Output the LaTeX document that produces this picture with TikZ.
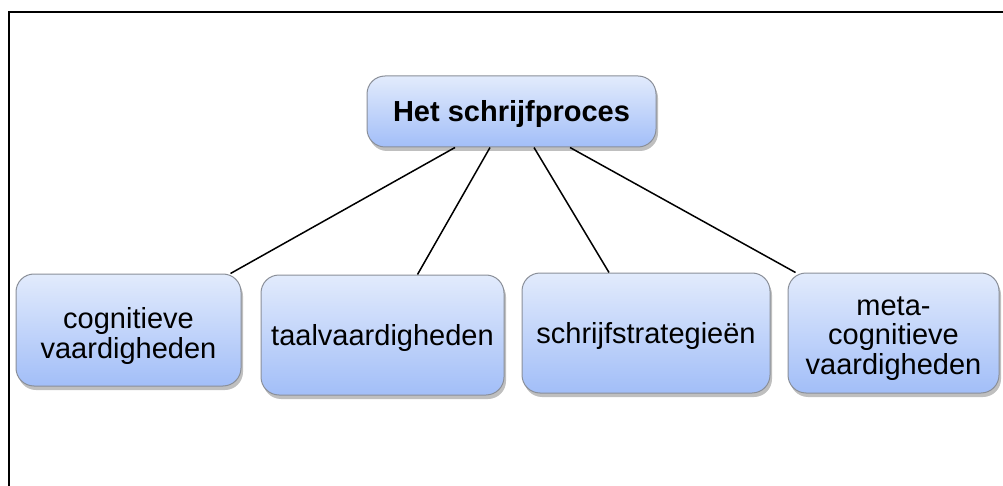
\documentclass[tikz,border=0pt]{standalone}
\usepackage{fontspec}
\setmainfont{Liberation Sans}
\usetikzlibrary{shadows}
\definecolor{boxtop}{HTML}{E2EBFC}
\definecolor{boxbot}{HTML}{A2BEF8}
\definecolor{boxline}{HTML}{8A8F99}
\newcommand{\boxtext}[2][-6pt]{\raisebox{#1}[\height][\depth]{\begin{tabular}{@{}c@{}}#2\end{tabular}}}
\begin{document}
\begin{tikzpicture}[x=1pt,y=-1pt,
  box/.style={rectangle, rounded corners=18pt, draw=boxline, line width=1pt,
    top color=boxtop, bottom color=boxbot,
    font=\fontsize{29}{29.5}\selectfont, inner sep=0pt,
    drop shadow={shadow xshift=2pt, shadow yshift=-4pt, opacity=0.25, fill=black}},
  conn/.style={line width=1.5pt, black}]
\useasboundingbox (0,0) rectangle (1003,486);
\draw[line width=2pt] (8.5,520) -- (8.5,12.5) -- (1040,12.5);
\node[box, minimum width=289pt, minimum height=71pt, font=\fontsize{29}{30}\selectfont\bfseries] (top) at (511.5,111.5) {\boxtext[-4pt]{Het schrijfproces}};
\node[box, minimum width=225pt, minimum height=112pt] (c1) at (128.5,330) {\boxtext[-7pt]{cognitieve\\vaardigheden}};
\node[box, minimum width=243pt, minimum height=120pt] (c2) at (382.5,335) {\boxtext[-4pt]{taalvaardigheden}};
\node[box, minimum width=248pt, minimum height=120pt] (c3) at (646,333) {\boxtext[-4pt]{schrijfstrategieën}};
\node[box, minimum width=211pt, minimum height=120pt] (c4) at (893.5,333) {\boxtext[-6pt]{meta-\\cognitieve\\vaardigheden}};
\draw[conn] ([xshift=-56.5pt]top.south) -- ([xshift=-11pt]c1.north east);
\draw[conn] ([xshift=-21.5pt]top.south) -- ([xshift=35pt]c2.north);
\draw[conn] ([xshift=22.5pt]top.south) -- ([xshift=-37pt]c3.north);
\draw[conn] ([xshift=58.5pt]top.south) -- ([xshift=8pt]c4.north west);
\end{tikzpicture}
\end{document}
